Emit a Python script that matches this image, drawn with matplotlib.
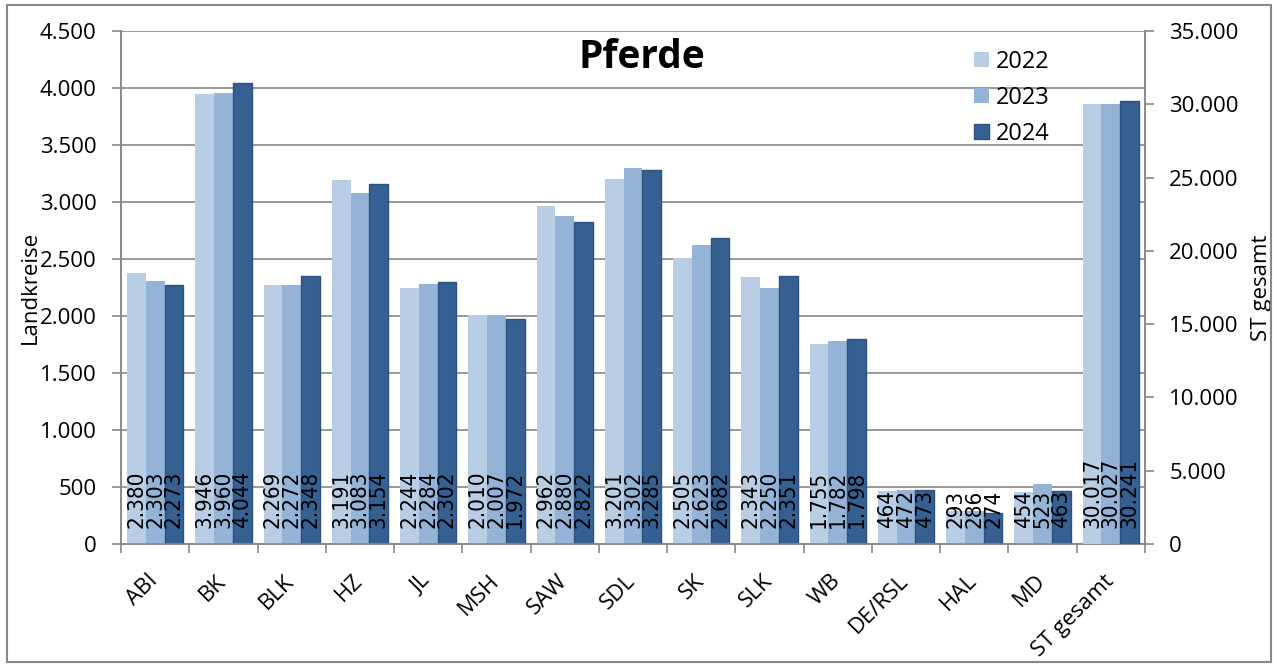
import matplotlib
matplotlib.use("Agg")
import matplotlib.pyplot as plt
import matplotlib.transforms as mtransforms
from matplotlib.patches import Rectangle
import numpy as np

categories = ["ABI", "BK", "BLK", "HZ", "JL", "MSH", "SAW", "SDL", "SK", "SLK",
              "WB", "DE/RSL", "HAL", "MD", "ST gesamt"]
years = ["2022", "2023", "2024"]
v2022 = [2380, 3946, 2269, 3191, 2244, 2010, 2962, 3201, 2505, 2343, 1755, 464, 293, 454, 30017]
v2023 = [2303, 3960, 2272, 3083, 2284, 2007, 2880, 3302, 2623, 2250, 1782, 472, 286, 523, 30027]
v2024 = [2273, 4044, 2348, 3154, 2302, 1972, 2822, 3285, 2682, 2351, 1798, 473, 274, 463, 30241]
series = [v2022, v2023, v2024]
colors = ["#B9CDE5", "#95B3D7", "#376092"]
edges = ["none", "none", "#2C5282"]

FONT = "Open Sans"
FS = 16
GRAY = "#888888"

plt.rcParams["font.family"] = [FONT, "DejaVu Sans"]

fig = plt.figure(figsize=(12.77, 6.66), dpi=100)
ax = fig.add_axes([121/1277, 1-544/666, 1024/1277, 513/666])
ax2 = ax.twinx()

n_land = len(categories) - 1
x = np.arange(len(categories))
w = 0.275

def fmt(v):
    return f"{v:,}".replace(",", ".")

lab_tr = mtransforms.blended_transform_factory(ax.transData, ax.transAxes)
handles = []
for k, vals in enumerate(series):
    xs = x + (k - 1) * w
    h = ax.bar(xs[:n_land], vals[:n_land], width=w, color=colors[k],
               edgecolor=edges[k], linewidth=1.0 if k == 2 else 0, label=years[k], zorder=3)
    handles.append(h)
    ax2.bar(xs[n_land:], vals[n_land:], width=w, color=colors[k],
            edgecolor=edges[k], linewidth=1.0 if k == 2 else 0, zorder=3)
    for xi, v in zip(xs, vals):
        ax2.text(xi, 0.032, fmt(v), transform=lab_tr, rotation=90, ha="center", va="bottom",
                 fontsize=16, family="DejaVu Sans", fontstretch="condensed", color="black", zorder=5)

ax.set_xlim(-0.5, len(categories) - 0.5)
ax.set_ylim(0, 4500)
ax.set_yticks(np.arange(0, 4501, 500))
ax2.set_ylim(0, 35000)
ax2.set_yticks(np.arange(0, 35001, 5000))
ax.set_yticklabels([fmt(int(t)) for t in np.arange(0, 4501, 500)], fontsize=FS)
ax2.set_yticklabels([fmt(int(t)) for t in np.arange(0, 35001, 5000)], fontsize=FS)

ax.yaxis.grid(True, color=GRAY, linewidth=1.2, zorder=0)
ax.set_axisbelow(True)

for a in (ax, ax2):
    a.spines["top"].set_visible(False)
    for s in ("left", "right", "bottom"):
        a.spines[s].set_color(GRAY)
        a.spines[s].set_linewidth(1.2)
    a.tick_params(axis="y", colors=GRAY, labelcolor="black", length=6.5, width=1.2, pad=11)

ax.set_xticks(x)
ax.set_xticklabels(categories, rotation=45, ha="right", va="top", fontsize=FS)
ax.set_xticks(np.arange(-0.5, len(categories), 1), minor=True)
ax.tick_params(axis="x", which="major", length=0, pad=19)
ax.tick_params(axis="x", which="minor", length=6.5, width=1.2, color=GRAY)
offset = mtransforms.ScaledTranslation(7/100, 0, fig.dpi_scale_trans)
for lbl in ax.get_xticklabels():
    lbl.set_transform(lbl.get_transform() + offset)

ax.set_ylabel("Landkreise", fontsize=FS, va="center")
ax.yaxis.set_label_coords((30-121)/1024, 0.5)
ax2.set_ylabel("ST gesamt", fontsize=FS, va="center", rotation=90)
ax2.yaxis.set_label_coords((1262-121)/1024, 0.5)

fig.text(642/1277, 1-57/666, "Pferde", ha="center", va="center", fontsize=28,
         fontweight="bold", family=FONT)

leg = fig.legend(handles=handles, labels=years, loc="upper left",
                 bbox_to_anchor=(974/1277, 1-50/666), frameon=False, fontsize=17,
                 handlelength=0.62, handleheight=0.62, handletextpad=0.3,
                 labelspacing=0.5, borderpad=0, borderaxespad=0)

fig.patches.append(Rectangle((7/1277, 4/666), 1264/1277, 657/666, transform=fig.transFigure,
                             fill=False, edgecolor=GRAY, linewidth=1.5))

fig.savefig("out.png", dpi=100)
